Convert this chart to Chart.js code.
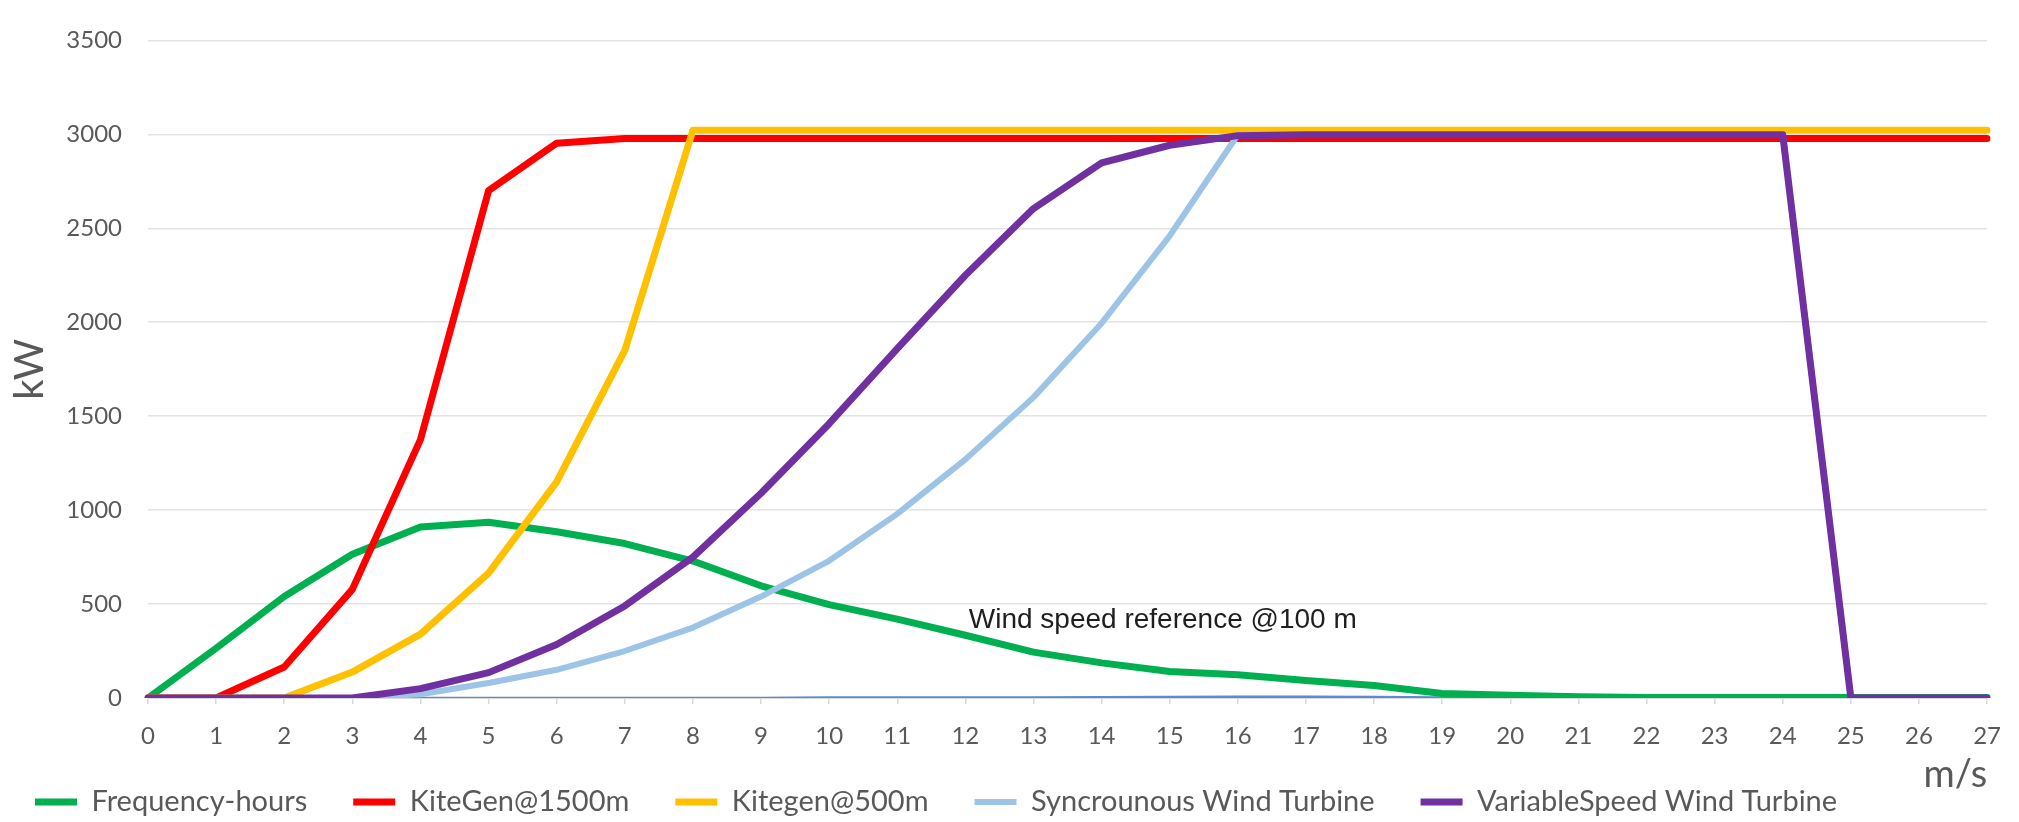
<!DOCTYPE html>
<html>
<head>
<meta charset="utf-8">
<script src="https://cdn.jsdelivr.net/npm/chart.js@4.4.1/dist/chart.umd.min.js"></script>
<style>
  html, body { margin: 0; padding: 0; background: #ffffff; }
  #wrap { width: 2019px; height: 822px; }
</style>
</head>
<body>
<div id="wrap"><canvas id="c" width="2019" height="822"></canvas></div>
<script>
// ---- data ----
const windSpeeds = ['0','1','2','3','4','5','6','7','8','9','10','11','12','13','14','15','16','17','18','19','20','21','22','23','24','25','26','27'];
const yTickValues = [0, 500, 1000, 1500, 2000, 2500, 3000, 3500];

const frequencyHours = [0, 265, 540, 765, 910, 935, 885, 822, 729, 597, 497, 420, 334, 244, 187, 141, 124, 93, 67, 24, 15, 7, 3, 3, 3, 3, 3, 3];
const kiteGen1500 = [0, 0, 165, 578, 1375, 2700, 2953, 2978, 2978, 2978, 2978, 2978, 2978, 2978, 2978, 2978, 2978, 2978, 2978, 2978, 2978, 2978, 2978, 2978, 2978, 2978, 2978, 2978];
const kiteGen500 = [0, 0, 0, 138, 340, 665, 1150, 1850, 3022, 3022, 3022, 3022, 3022, 3022, 3022, 3022, 3022, 3022, 3022, 3022, 3022, 3022, 3022, 3022, 3022, 3022, 3022, 3022];
const syncTurbine = [0, 0, 0, 0, 20, 80, 150, 250, 375, 540, 730, 980, 1270, 1600, 1995, 2460, 2998, 2998, 2998, 2998, 2998, 2998, 2998, 2998, 2998, 0, 0, 0];
const variableTurbine = [0, 0, 0, 0, 50, 135, 285, 490, 750, 1090, 1460, 1860, 2250, 2605, 2848, 2942, 2993, 2998, 2998, 2998, 2998, 2998, 2998, 2998, 2998, 0, 0, 0];
const baseLine = [0, 0, 0, 0, 0, 0, 0, 0, 0, 0, 2, 2, 3, 3, 4, 5, 7, 7, 5, 3, 2, 1, 0, 0, 0, 0, 0, 0];

const seriesNames = ['Frequency-hours', 'KiteGen@1500m', 'Kitegen@500m', 'Syncrounous Wind Turbine', 'VariableSpeed Wind Turbine'];
const annotationText = 'Wind speed reference @100 m';
const annotationAt = [12.05, 413];   // [wind speed, kW]

// ---- chart ----
const grey = '#595959';
const LEGEND_PAD = 46;

const annotationPlugin = {
  id: 'windRefText',
  afterDatasetsDraw(chart) {
    const {ctx, scales} = chart;
    const x = scales.x.getPixelForValue(annotationAt[0]);
    const y = scales.y.getPixelForValue(annotationAt[1]);
    ctx.save();
    ctx.font = '28px "Liberation Sans", Arial, sans-serif';
    ctx.fillStyle = '#1e1e1e';
    ctx.textAlign = 'left';
    ctx.textBaseline = 'middle';
    ctx.fillText(annotationText, x, y);
    ctx.restore();
  }
};

const legendPlacePlugin = {
  id: 'legendPlace',
  afterLayout(chart) {
    const lg = chart.legend;
    if (!lg) return;
    const w = lg.width;
    lg.top = 802 - LEGEND_PAD - 14.5; lg.bottom = chart.height;
    lg.height = lg.bottom - lg.top;
    lg.left = 35 - LEGEND_PAD; lg.right = lg.left + w;
  }
};

function mk(label, data, color, width, order) {
  return {
    label, data,
    borderColor: color, backgroundColor: color,
    borderWidth: width, pointRadius: 0, pointHoverRadius: 0,
    tension: 0, fill: false, order,
    borderCapStyle: 'round', borderJoinStyle: 'round'
  };
}

new Chart(document.getElementById('c'), {
  type: 'line',
  data: {
    labels: windSpeeds,
    datasets: [
      mk(seriesNames[0], frequencyHours, '#00b050', 7, 4),
      mk(seriesNames[1], kiteGen1500, '#ff0000', 7, 3),
      mk(seriesNames[2], kiteGen500, '#ffc000', 7, 2),
      mk(seriesNames[3], syncTurbine, '#9dc3e6', 6, 1),
      mk(seriesNames[4], variableTurbine, '#7030a0', 7, 0),
      mk('', baseLine, '#5b8bd0', 2.5, 5)
    ]
  },
  options: {
    responsive: false,
    animation: false,
    devicePixelRatio: 1,
    layout: { padding: { top: 20, right: 22, bottom: 0, left: 0 } },
    plugins: {
      tooltip: { enabled: false },
      legend: {
        position: 'bottom',
        align: 'start',
        maxHeight: 24,
        labels: {
          usePointStyle: true,
          pointStyle: 'line',
          pointStyleWidth: 42,
          padding: LEGEND_PAD,
          color: grey,
          font: { family: 'Lato, "Open Sans", sans-serif', size: 29 },
          filter: (item) => item.text !== '',
          sort: (a, b) => a.datasetIndex - b.datasetIndex
        }
      }
    },
    scales: {
      x: {
        type: 'category',
        grid: { display: true, drawOnChartArea: false, drawTicks: true, tickLength: 6, color: '#d9d9d9', lineWidth: 1.5 },
        border: { display: true, color: '#d9d9d9', width: 1 },
        ticks: { color: grey, padding: 18, maxRotation: 0, autoSkip: false, font: { family: 'Lato, "Open Sans", sans-serif', size: 24 } },
        title: { display: true, text: 'm/s', align: 'end', color: grey, padding: 0, font: { family: 'Lato, "Open Sans", sans-serif', size: 38 } },
        afterFit(scale) { scale.height = 100; }
      },
      y: {
        min: 0, max: 3500,
        grid: { color: '#e3e3e3', lineWidth: 1.5, drawTicks: false },
        border: { display: false },
        ticks: {
          stepSize: 500, padding: 26, color: grey,
          font: { family: 'Lato, "Open Sans", sans-serif', size: 24 },
          callback: (v) => yTickValues.includes(v) ? String(v) : ''
        },
        title: { display: true, text: 'kW', color: grey, padding: { top: 6, bottom: 0 }, font: { family: 'Lato, "Open Sans", sans-serif', size: 40 } },
        afterFit(scale) { scale.width = 148; }
      }
    }
  },
  plugins: [annotationPlugin, legendPlacePlugin]
});
</script>
</body>
</html>
